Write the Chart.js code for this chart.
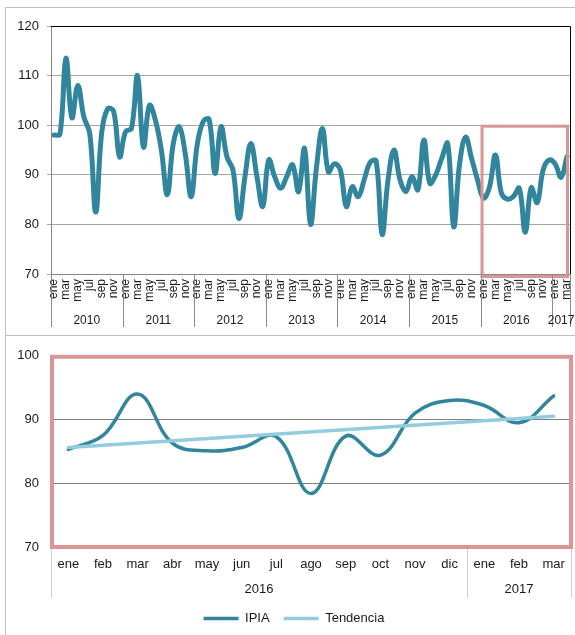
<!DOCTYPE html>
<html>
<head>
<meta charset="utf-8">
<script src="https://cdn.jsdelivr.net/npm/chart.js@4.4.1/dist/chart.umd.min.js"></script>
<style>
  html, body { margin: 0; padding: 0; background: #fff; overflow: hidden; }
  #wrap { position: relative; width: 575px; height: 635px; }
  .rule { position: absolute; background: #bfbfbf; }
  canvas { position: absolute; left: 0; }
</style>
</head>
<body>
<div id="wrap">
  <div class="rule" style="left:5px; top:7px; width:570px; height:1px"></div>
  <div class="rule" style="left:5px; top:7px; width:1px; height:628px"></div>
  <div class="rule" style="left:5px; top:335px; width:570px; height:1px"></div>
  <canvas id="topChart" width="575" height="334" style="top:0"></canvas>
  <canvas id="zoomChart" width="575" height="299" style="top:336px"></canvas>
</div>
<script>
const MONTHS = ['ene', 'feb', 'mar', 'abr', 'may', 'jun', 'jul', 'ago', 'sep', 'oct', 'nov', 'dic'];
const YEARS = ['2010', '2011', '2012', '2013', '2014', '2015', '2016', '2017'];

// IPIA, monthly index
const IPIA_2010 = [98, 98.2, 113.5, 101.5, 108, 101.7, 98.3, 82.5, 98.5, 103.3, 102.8, 93.6];
const IPIA_2011 = [98.7, 99.4, 110, 95.6, 104, 101, 95, 86, 96.3, 99.7, 94.3, 85.6];
const IPIA_2012 = [96, 100.7, 101.2, 90.3, 99.7, 93.6, 91, 81.2, 89.5, 96.3, 89.8, 83.6];
const IPIA_2013 = [93, 89.6, 87.3, 89.6, 92, 86.6, 95.3, 80, 91.5, 99.3, 90.6, 92.2];
const IPIA_2014 = [91, 83.6, 87.6, 85.6, 89, 92.5, 92.8, 78, 89, 95, 89, 86.6];
const IPIA_2015 = [89.6, 87, 97, 88.3, 90, 93.3, 96.3, 79.5, 92.3, 97.6, 93.3, 89];
const IPIA_2016 = [85.3, 87.5, 94, 86.3, 85.1, 85.6, 87.3, 78.4, 87.4, 84.4, 91, 93];
const IPIA_2017 = [92.2, 89.5, 93.7];

// linear trend of the last 15 months (only the two ends are needed)
const TENDENCIA = [85.6, null, null, null, null, null, null, null, null, null, null, null, null, null, 90.5];

const TOP_TICKS = [70, 80, 90, 100, 110, 120];
const ZOOM_TICKS = [70, 80, 90, 100];
const HIGHLIGHT_FROM = 100;

const TEAL = '#31859c';
const LIGHT = '#93cddd';
const PINK = '#d99694';
const TEXT = '#1a1a1a';
const FONT = '"Liberation Sans", Arial, sans-serif';

Chart.defaults.font.family = FONT;
Chart.defaults.color = TEXT;

const byYear = [IPIA_2010, IPIA_2011, IPIA_2012, IPIA_2013, IPIA_2014, IPIA_2015, IPIA_2016, IPIA_2017];
const labels = [], ipia = [], groups = [];
byYear.forEach((vals, y) => {
  groups.push({ label: YEARS[y], start: labels.length, end: labels.length + vals.length - 1 });
  vals.forEach((v, m) => { labels.push(MONTHS[m]); ipia.push(v); });
});

const zoomStart = groups[6].start;
const zoomLabels = labels.slice(zoomStart);
const zoomIpia = ipia.slice(zoomStart);
const zoomGroups = groups.slice(6).map(g => ({ label: g.label, start: g.start - zoomStart, end: g.end - zoomStart }));

const crisp = v => Math.round(v) + 0.5;

// year row under the month labels
const yearGroups = {
  id: 'yearGroups',
  afterDraw(chart, args, opts) {
    const x = chart.scales.x, area = chart.chartArea, ctx = chart.ctx;
    const step = x.getPixelForValue(1) - x.getPixelForValue(0);
    ctx.save();
    ctx.strokeStyle = opts.lineColor;
    ctx.lineWidth = 1;
    ctx.fillStyle = TEXT;
    ctx.font = opts.fontSize + 'px ' + FONT;
    ctx.textAlign = 'center';
    ctx.textBaseline = 'middle';
    opts.groups.forEach(g => {
      const x0 = Math.max(area.left, x.getPixelForValue(g.start) - step / 2);
      const x1 = Math.min(area.right, x.getPixelForValue(g.end) + step / 2);
      ctx.beginPath();
      [x0, x1].forEach(px => {
        ctx.moveTo(crisp(px), area.bottom);
        ctx.lineTo(crisp(px), area.bottom + opts.lineLength);
      });
      ctx.stroke();
      ctx.fillText(g.label, (x0 + x1) / 2, area.bottom + opts.labelOffset);
    });
    ctx.restore();
  }
};

// black top/right edge of the upper plot and the pink box round the zoomed months
const topFrame = {
  id: 'topFrame',
  afterDatasetsDraw(chart) {
    const { ctx, chartArea: a, scales: { x, y } } = chart;
    ctx.save();
    ctx.strokeStyle = '#000';
    ctx.lineWidth = 1;
    ctx.beginPath();
    ctx.moveTo(a.left, crisp(a.top));
    ctx.lineTo(crisp(a.right), crisp(a.top));
    ctx.lineTo(crisp(a.right), a.bottom);
    ctx.stroke();
    const step = x.getPixelForValue(1) - x.getPixelForValue(0);
    const left = x.getPixelForValue(zoomStart) - step / 2;
    ctx.strokeStyle = PINK;
    ctx.lineWidth = 3;
    ctx.strokeRect(left + 1.5, y.getPixelForValue(HIGHLIGHT_FROM) + 1, a.right - left - 4, a.bottom + 1.5 - y.getPixelForValue(HIGHLIGHT_FROM));
    ctx.restore();
  }
};

const zoomFrame = {
  id: 'zoomFrame',
  afterDraw(chart) {
    const { ctx, chartArea: a } = chart;
    ctx.save();
    ctx.strokeStyle = PINK;
    ctx.lineWidth = 4;
    ctx.strokeRect(a.left + 1, a.top + 1, a.right - a.left - 1, a.bottom - a.top - 1);
    ctx.restore();
  }
};

new Chart(document.getElementById('topChart'), {
  type: 'line',
  data: {
    labels: labels,
    datasets: [{
      label: 'IPIA',
      data: ipia,
      borderColor: TEAL,
      borderWidth: 5,
      tension: 0.4,
      pointRadius: 0,
      borderCapStyle: 'round',
      borderJoinStyle: 'round'
    }]
  },
  options: {
    responsive: false,
    animation: false,
    events: [],
    layout: { padding: { top: 26, right: 5, left: 0, bottom: 0 } },
    plugins: {
      legend: { display: false },
      tooltip: { enabled: false },
      yearGroups: { groups: groups, lineColor: '#8c8c8c', lineLength: 53, labelOffset: 47, fontSize: 12 }
    },
    scales: {
      x: {
        offset: true,
        grid: { display: false, drawTicks: false },
        border: { color: '#868686' },
        ticks: {
          autoSkip: false, minRotation: 90, maxRotation: 90, padding: 5,
          font: { size: 12 },
          callback: (v, i) => (i % 2 === 0 ? labels[i] : '')
        },
        afterFit: s => { s.height = 60; s.paddingLeft = 0; s.paddingRight = 0; }
      },
      y: {
        min: TOP_TICKS[0],
        max: TOP_TICKS[TOP_TICKS.length - 1],
        ticks: { stepSize: 10, padding: 8, font: { size: 13 } },
        grid: { color: '#a6a6a6', tickLength: 4 },
        border: { color: '#868686' },
        afterFit: s => { s.width = 51; }
      }
    }
  },
  plugins: [yearGroups, topFrame]
});

new Chart(document.getElementById('zoomChart'), {
  type: 'line',
  data: {
    labels: zoomLabels,
    datasets: [{
      label: 'IPIA',
      data: zoomIpia,
      order: 1,
      borderColor: TEAL,
      borderWidth: 3.5,
      tension: 0.4,
      pointRadius: 0,
      borderCapStyle: 'round'
    }, {
      label: 'Tendencia',
      data: TENDENCIA,
      order: 0,
      spanGaps: true,
      borderColor: LIGHT,
      borderWidth: 3.5,
      tension: 0,
      pointRadius: 0,
      borderCapStyle: 'round'
    }]
  },
  options: {
    responsive: false,
    animation: false,
    events: [],
    layout: { padding: { top: 19, right: 4, left: 17, bottom: 0 } },
    plugins: {
      legend: {
        position: 'bottom',
        labels: {
          usePointStyle: true, pointStyle: 'line', pointStyleWidth: 35, padding: 14,
          font: { size: 13 },
          sort: (a, b) => a.datasetIndex - b.datasetIndex
        }
      },
      tooltip: { enabled: false },
      yearGroups: { groups: zoomGroups, lineColor: '#d0d0d0', lineLength: 51, labelOffset: 42, fontSize: 13 }
    },
    scales: {
      x: {
        offset: true,
        grid: { display: false, drawTicks: false },
        border: { display: false },
        ticks: { autoSkip: false, maxRotation: 0, padding: 10, font: { size: 13 } },
        afterFit: s => { s.height = 51; }
      },
      y: {
        min: ZOOM_TICKS[0],
        max: ZOOM_TICKS[ZOOM_TICKS.length - 1],
        ticks: { stepSize: 10, padding: 12, font: { size: 13 } },
        grid: { color: '#7f7f7f', drawTicks: false },
        border: { display: false },
        afterFit: s => { s.width = 34; }
      }
    }
  },
  plugins: [yearGroups, zoomFrame]
});
</script>
</body>
</html>
